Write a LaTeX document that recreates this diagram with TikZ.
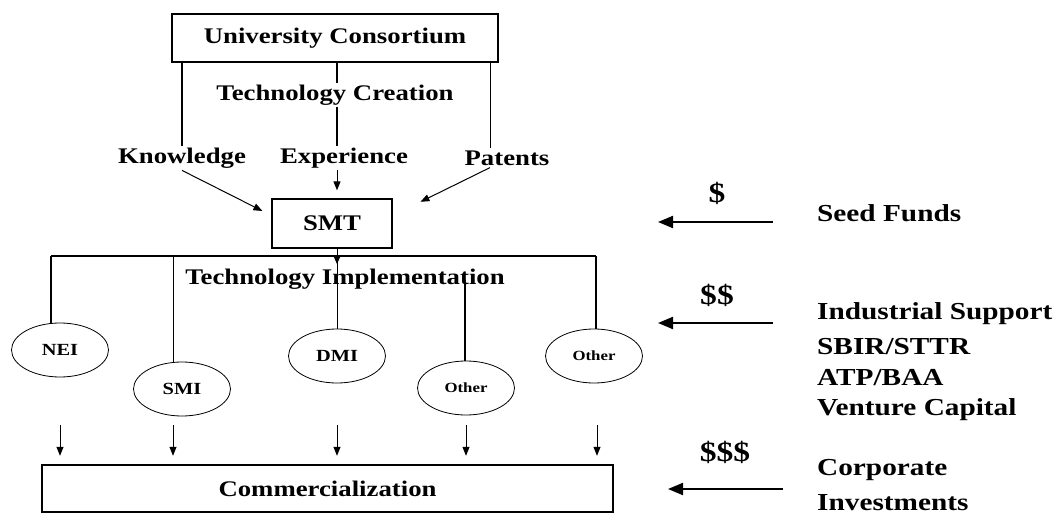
\documentclass[tikz,border=0pt]{standalone}
\usepackage{fontspec}
\setmainfont{Liberation Serif}[FakeStretch=1.2]
\usetikzlibrary{arrows.meta,shapes.geometric}
\begin{document}
\begin{tikzpicture}[x=1pt,y=-1pt,
  lbl/.style={font=\fontsize{22.3}{26}\selectfont\bfseries, inner sep=2pt},
  rlbl/.style={font=\fontsize{24.4}{28}\selectfont\bfseries, anchor=west, inner sep=0pt},
  dol/.style={font=\fontsize{28}{30}\selectfont\bfseries, inner sep=0pt},
  box/.style={draw, line width=1.3pt},
  ell/.style={ellipse, draw, line width=0.8pt, minimum width=97pt, minimum height=54pt, inner sep=0pt, font=\fontsize{17}{20}\selectfont\bfseries},
  smallell/.style={font=\fontsize{14}{17}\selectfont\bfseries},
  arr/.style={-{Triangle[length=9pt,width=7pt]}, line width=1pt},
  bigarr/.style={-{Triangle[length=15pt,width=12pt]}, line width=2pt},
  ln/.style={line width=1.5pt}
]
\useasboundingbox (0,0) rectangle (1058,516);

% top part
\node[lbl, box, minimum width=326pt, minimum height=48pt] (uc) at (335,38) {University Consortium};
\node[lbl] (tc) at (335,95) {Technology Creation};
\node[lbl] (kn) at (182,158) {Knowledge};
\node[lbl] (ex) at (344,158) {Experience};
\node[lbl] (pa) at (507,158) {Patents};
\node[lbl, box, minimum width=120pt, minimum height=49pt] (smt) at (332,223.5) {SMT};

\coordinate (mx) at (337,0);
\draw[ln] (uc.south -| kn) -- (kn.north);
\draw[ln] (uc.south -| mx) -- (tc.north -| mx);
\draw[ln] (tc.south -| mx) -- (ex.north -| mx);
\draw[ln] ([xshift=-8pt]uc.south east) -- ([xshift=-8pt]uc.south east |- pa.north);
\draw[arr, shorten >=8pt] (ex.south -| mx) -- (smt.north -| mx);
\draw[arr, shorten >=10pt] (kn.south) -- ([yshift=8pt]smt.west);
\draw[arr, shorten >=31pt] ([xshift=-17pt]pa.south) -- ([yshift=8pt]smt.east);

% implementation bar
\coordinate (barL) at (51,256);
\coordinate (barR) at (596,256);
\coordinate (tick) at (337,264);
\draw[line width=1.8pt] (barL) -- (barR);
\draw[-{Triangle[length=7pt,width=6pt]}, line width=1pt] (smt.south -| mx) -- (tick);
\node[lbl] (ti) at (345,279) {Technology Implementation};

\node[ell] (nei) at (60,350) {NEI};
\node[ell] (smi) at (182,389) {SMI};
\node[ell] (dmi) at (337,356) {DMI};
\node[ell, smallell] (o1) at (466,388) {Other};
\node[ell, smallell] (o2) at (594,356) {Other};

\coordinate (o1top) at (465,280);
\draw[line width=1.8pt] (barL) -- (barL |- nei.north);
\draw[line width=1pt] ([xshift=-9pt]smi.north |- barL) -- ([xshift=-9pt]smi.north);
\draw[line width=1pt] (dmi.north |- barL) -- (dmi.north);
\draw[line width=1.5pt] (o1top) -- (o1top |- o1.north);
\draw[line width=1.8pt] (barR) -- (barR |- o2.north);

% commercialization
\node[lbl, draw, line width=2.4pt, minimum width=571pt, minimum height=47pt] (cm) at (327.5,488.5) {Commercialization};
\foreach \x [count=\i] in {60,173,337,466,597}{
  \coordinate (d\i) at (\x,425);
  \draw[arr, shorten >=8pt] (d\i) -- (d\i |- cm.north);
}

% right side
\node[dol] (s1) at (717,193) {\$};
\coordinate (r1a) at (773,222);
\coordinate (r1b) at (658,222);
\draw[bigarr] (r1a) -- (r1b);
\node[rlbl] (sf) at (817,213) {Seed Funds};

\node[dol] (s2) at (717,295) {\$\$};
\coordinate (r2a) at (773,323);
\coordinate (r2b) at (658,323);
\draw[bigarr] (r2a) -- (r2b);
\node[rlbl] (is) at (817,314) {Industrial Support};
\node[rlbl] (sb) at (817,347) {SBIR/STTR};
\node[rlbl] (ab) at (817,378) {ATP/BAA};
\node[rlbl] (vc) at (817,410) {Venture Capital};

\node[dol] (s3) at (725,452) {\$\$\$};
\coordinate (r3a) at (783,489);
\coordinate (r3b) at (668,489);
\draw[bigarr] (r3a) -- (r3b);
\node[rlbl] (co) at (817,470) {Corporate};
\node[rlbl] (iv) at (817,503) {Investments};
\end{tikzpicture}
\end{document}
